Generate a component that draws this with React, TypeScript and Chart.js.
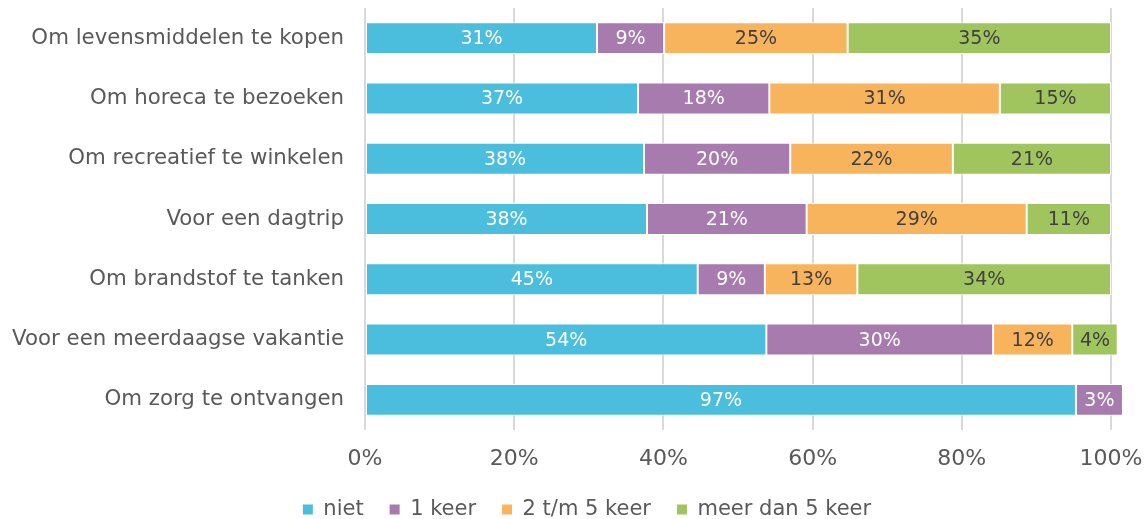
import React, { useEffect, useRef } from "react";
import { Chart, registerables } from "chart.js";

Chart.register(...registerables);

const categories = [
  "Om levensmiddelen te kopen",
  "Om horeca te bezoeken",
  "Om recreatief te winkelen",
  "Voor een dagtrip",
  "Om brandstof te tanken",
  "Voor een meerdaagse vakantie",
  "Om zorg te ontvangen",
];

const seriesNames = ["niet", "1 keer", "2 t/m 5 keer", "meer dan 5 keer"];

const niet = [31.1, 36.6, 37.4, 37.8, 44.6, 53.8, 95.3];
const eenKeer = [9.0, 17.6, 19.6, 21.4, 9.0, 30.4, 6.3];
const tweeTotVijf = [24.6, 30.9, 21.8, 29.5, 12.4, 10.6, 0];
const meerDanVijf = [35.3, 14.9, 21.2, 11.3, 34.0, 6.1, 0];

const nietLabels = ["31%", "37%", "38%", "38%", "45%", "54%", "97%"];
const eenKeerLabels = ["9%", "18%", "20%", "21%", "9%", "30%", "3%"];
const tweeTotVijfLabels = ["25%", "31%", "22%", "29%", "13%", "12%", ""];
const meerDanVijfLabels = ["35%", "15%", "21%", "11%", "34%", "4%", ""];

const xTicks = [0, 20, 40, 60, 80, 100];

const colors = ["#4BBEDD", "#A77BAE", "#F8B45C", "#A0C55E"];
const labelColors = ["#FFFFFF", "#FFFFFF", "#404040", "#404040"];
const FONT = "'DejaVu Sans', Verdana, sans-serif";

const allLabels = [nietLabels, eenKeerLabels, tweeTotVijfLabels, meerDanVijfLabels];

const dataLabelPlugin = {
  id: "dataLabels",
  afterDatasetsDraw(chart: any) {
    const ctx = chart.ctx;
    ctx.save();
    ctx.font = `19px ${FONT}`;
    ctx.textAlign = "center";
    ctx.textBaseline = "middle";
    chart.data.datasets.forEach((ds: any, di: number) => {
      const meta = chart.getDatasetMeta(di);
      meta.data.forEach((el: any, i: number) => {
        const txt = allLabels[di][i];
        if (!txt) return;
        const cx = (el.x + el.base) / 2;
        ctx.fillStyle = labelColors[di];
        ctx.fillText(txt, cx, el.y + 1);
      });
    });
    ctx.restore();
  },
};

const layoutTweakPlugin = {
  id: "layoutTweak",
  afterLayout(chart: any) {
    const lg = chart.legend;
    if (lg) {
      const dx = 31.5;
      const dy = 11;
      lg.left += dx;
      lg.right += dx;
      lg.top += dy;
      lg.bottom += dy;
    }
    const xs = chart.scales.x;
    if (xs) {
      xs.bottom = xs.top + 60;
      xs.height = 60;
    }
  },
};

export default function App() {
  const ref = useRef<HTMLCanvasElement>(null);
  useEffect(() => {
    if (!ref.current) return;
    const data = [niet, eenKeer, tweeTotVijf, meerDanVijf];
    const chart = new Chart(ref.current, {
      type: "bar",
      data: {
        labels: categories,
        datasets: data.map((d, i) => ({
          label: seriesNames[i],
          data: d,
          backgroundColor: colors[i],
          borderColor: "#FFFFFF",
          borderWidth: 1,
          borderSkipped: false,
          barPercentage: 0.53,
          categoryPercentage: 1,
          clip: false as any,
        })),
      },
      options: {
        indexAxis: "y",
        animation: false,
        responsive: false,
        maintainAspectRatio: false,
        layout: { padding: { left: 0, right: 37, top: 8, bottom: 0 } },
        scales: {
          x: {
            stacked: true,
            min: 0,
            max: 100,
            afterBuildTicks: (scale: any) => {
              scale.ticks = xTicks.map((v) => ({ value: v }));
            },
            afterFit: (scale: any) => {
              scale.height = 32;
              scale.paddingLeft = 0;
              scale.paddingRight = 0;
            },
            ticks: {
              callback: (v: any) => v + "%",
              color: "#595959",
              font: { family: FONT, size: 22 },
              padding: 16,
              maxRotation: 0,
            },
            grid: {
              color: "#D9D9D9",
              lineWidth: 2,
              drawTicks: false,
            },
            border: { display: false },
          },
          y: {
            stacked: true,
            afterFit: (scale: any) => {
              scale.width = 365;
              scale.paddingTop = 0;
              scale.paddingBottom = 0;
            },
            ticks: {
              color: "#595959",
              font: { family: FONT, size: 21.3 },
              padding: 21,
            },
            grid: { display: false, drawTicks: false },
            border: { display: false },
          },
        } as any,
        plugins: {
          legend: {
            position: "bottom",
            labels: {
              color: "#595959",
              font: { family: FONT, size: 21 },
              boxWidth: 10,
              boxHeight: 10,
              padding: 26,
              useBorderRadius: false,
              generateLabels: (c: any) =>
                c.data.datasets.map((ds: any, i: number) => ({
                  text: ds.label,
                  fillStyle: colors[i],
                  strokeStyle: colors[i],
                  lineWidth: 0,
                  hidden: false,
                  datasetIndex: i,
                  fontColor: "#595959",
                })),
            },
          },
          tooltip: { enabled: false },
        },
      },
      plugins: [dataLabelPlugin, layoutTweakPlugin],
    });
    return () => chart.destroy();
  }, []);
  return (
    <div style={{ position: "absolute", left: 0, top: 0, width: 1148, height: 519 }}>
      <canvas ref={ref} width={1148} height={519} style={{ width: 1148, height: 519 }} />
    </div>
  );
}
